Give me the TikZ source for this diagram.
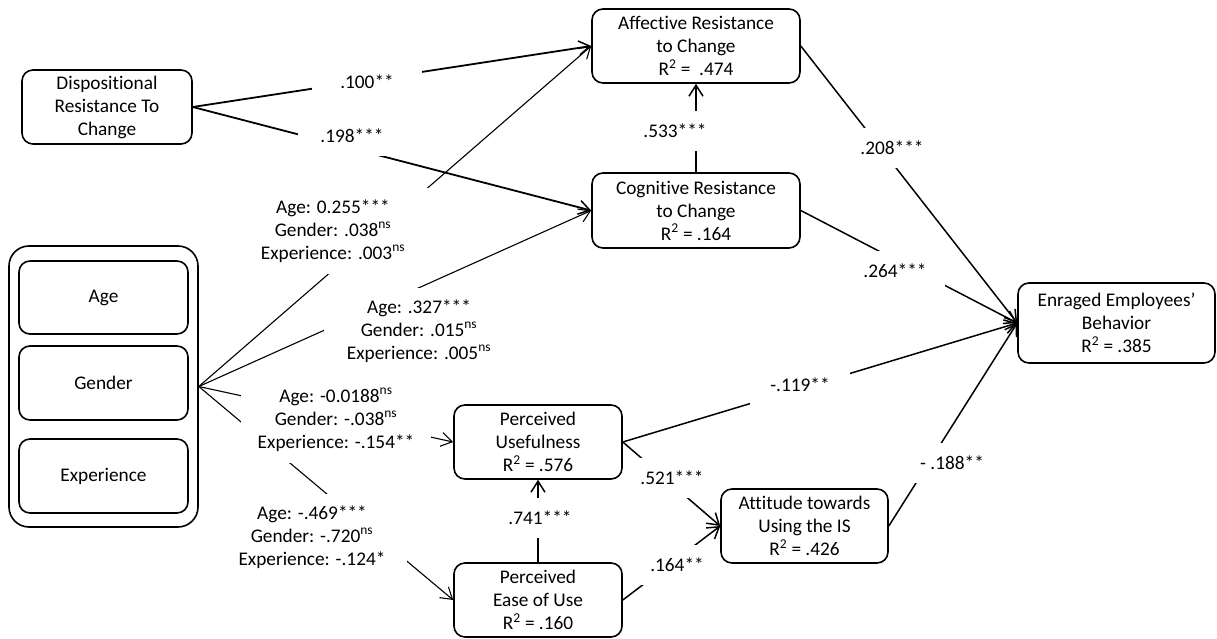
\documentclass[tikz,border=0pt]{standalone}
\usepackage{fontspec}
\setmainfont{Carlito}[Ligatures=NoCommon]
\usetikzlibrary{arrows.meta}
\pgfdeclarelayer{edges}
\pgfdeclarelayer{labels}
\pgfsetlayers{edges,labels,main}
\newcommand{\txtfont}{\fontsize{19.3}{23}\selectfont}
\newcommand{\ns}{\textsuperscript{ns}}
\newcommand{\Rsq}{R\textsuperscript{2}}
\tikzset{
  box/.style={draw, line width=1.6pt, rounded corners=11pt, align=center,
    inner sep=0pt, font=\txtfont},
  path/.style={line width=1.5pt, -{Straight Barb[length=11pt,width=14pt,line width=1.5pt]}},
  thinpath/.style={line width=1.1pt, -{Straight Barb[length=11pt,width=14pt,line width=1.1pt]}},
  lbl/.style={fill=white, minimum width=100pt, minimum height=40pt, inner sep=0pt,
    align=center, font=\txtfont},
  glbl/.style={lbl, minimum width=190pt, minimum height=86pt}
}
\begin{document}
\begin{tikzpicture}[x=1pt,y=-1pt]
\useasboundingbox (0,0) rectangle (1217,639);

% constructs
\node[box, minimum width=170pt, minimum height=74pt] (disp) at (107,107)
  {Dispositional\\Resistance To\\Change};
\node[box, minimum width=208pt, minimum height=74pt] (aff) at (696,46)
  {Affective Resistance\\to Change\\\Rsq{} =\ \ .474};
\node[box, minimum width=208pt, minimum height=75pt] (cog) at (696,210.5)
  {Cognitive Resistance\\to Change\\\Rsq{} = .164};
\node[box, minimum width=197pt, minimum height=80pt] (enr) at (1116.5,323)
  {Enraged Employees’\\Behavior\\\Rsq{} = .385};
\node[box, minimum width=168pt, minimum height=74pt] (pu) at (538,442)
  {Perceived\\Usefulness\\\Rsq{} = .576};
\node[box, minimum width=168pt, minimum height=74pt] (peou) at (538,600)
  {Perceived\\Ease of Use\\\Rsq{} = .160};
\node[box, minimum width=167pt, minimum height=74pt] (att) at (804.5,526)
  {Attitude towards\\Using the IS\\\Rsq{} = .426};

% control variables
\node[box, rounded corners=20pt, minimum width=189pt, minimum height=281pt] (grp) at (103.5,386.5) {};
\node[box, minimum width=169pt, minimum height=73pt] (age) at (103.5,297.5) {Age};
\node[box, minimum width=169pt, minimum height=74pt] (gen) at (103.5,383) {Gender};
\node[box, minimum width=169pt, minimum height=74pt] (exp) at (103.5,476) {Experience};

% paths
\begin{pgfonlayer}{edges}
\draw[path, line width=1.8pt] (disp.east) -- (aff.west);
\draw[path, line width=1.8pt] (disp.east) -- (cog.west);
\draw[thinpath] (grp.east) -- (aff.west);
\draw[thinpath] (grp.east) -- (cog.west);
\draw[thinpath] (grp.east) -- (pu.west);
\draw[thinpath] (grp.east) -- (peou.west);
\draw[path] (cog.north) -- (aff.south);
\draw[path] (peou.north) -- (pu.south);
\draw[path] (aff.east) -- (enr.west);
\draw[path] (cog.east) -- (enr.west);
\draw[path] (pu.east) -- (enr.west);
\draw[path] (pu.east) -- (att.west);
\draw[path] (peou.east) -- (att.west);
\draw[path] (att.east) -- (enr.west);
\end{pgfonlayer}

% coefficients
\begin{pgfonlayer}{labels}
\node[lbl, minimum width=110pt] (l1) at (367,82) {.100**};
\node[lbl, minimum width=108pt] (l2) at (352,136) {.198***};
\node[glbl] (l3) at (333,231) {Age: 0.255***\\Gender: .038\ns\\Experience: .003\ns};
\node[glbl] (l4) at (419,331) {Age: .327***\\Gender: .015\ns\\Experience: .005\ns};
\node[glbl] (l5) at (336,420) {Age: -0.0188\ns\\Gender: -.038\ns\\Experience: -.154**};
\node[glbl] (l6) at (312,537) {Age: -.469***\\Gender: -.720\ns\\Experience: -.124*};
\node[lbl] (l7) at (675,131) {.533***};
\node[lbl] (l8) at (892,148) {.208***};
\node[lbl] (l9) at (895,271) {.264***};
\node[lbl] (l10) at (800,385) {-.119**};
\node[lbl] (l11) at (672,478) {.521***};
\node[lbl] (l12) at (677,565) {.164**};
\node[lbl] (l13) at (952,463) {- .188**};
\node[lbl] (l14) at (540,518) {.741***};
\end{pgfonlayer}
\end{tikzpicture}
\end{document}
